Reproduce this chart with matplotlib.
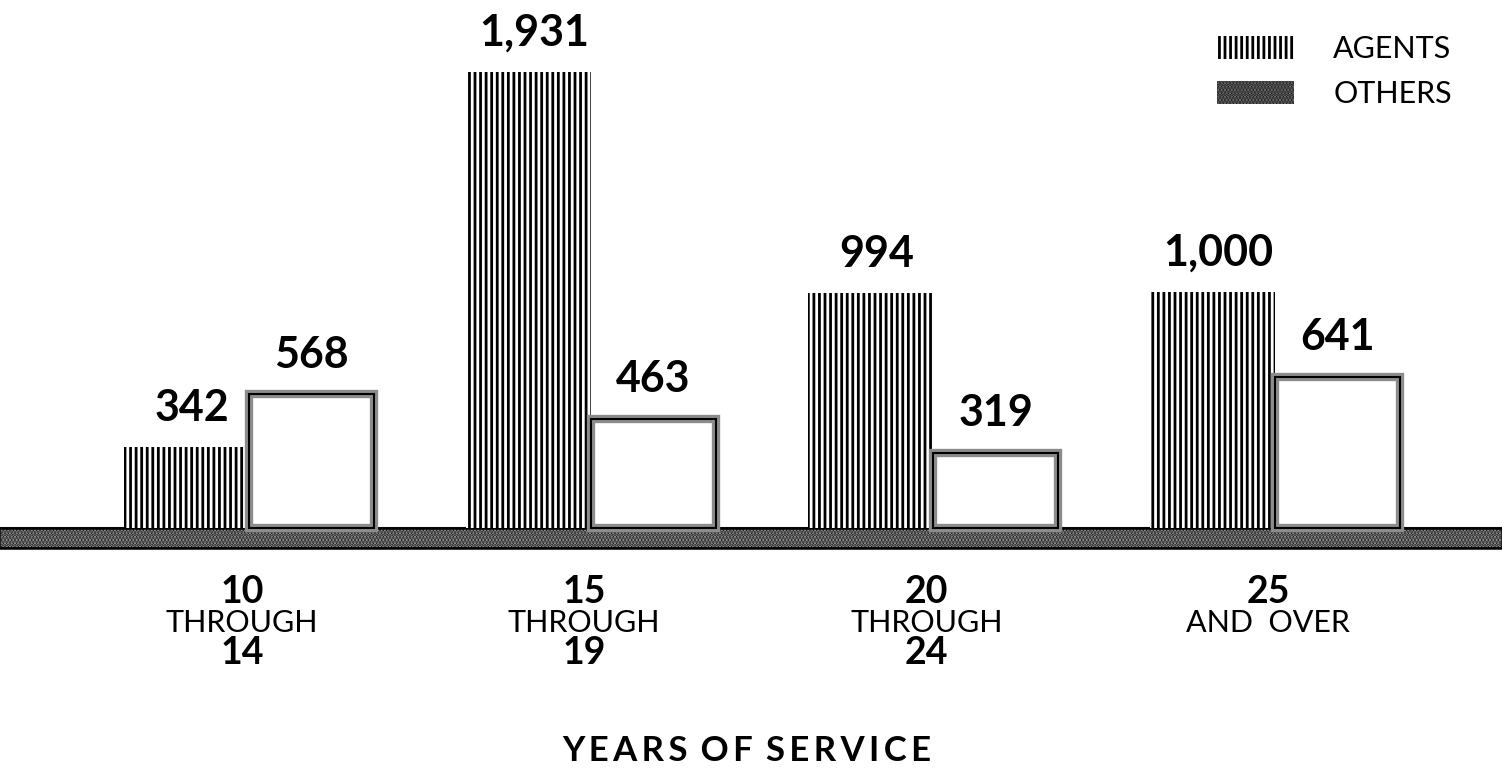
import numpy as np
import matplotlib
matplotlib.use('Agg')
import matplotlib.pyplot as plt
from matplotlib.patches import Patch
from matplotlib.transforms import blended_transform_factory

# years-of-service groups
groups_top = ['10', '15', '20', '25']
groups_mid = ['THROUGH', 'THROUGH', 'THROUGH', 'AND  OVER']
groups_bot = ['14', '19', '24', '']
agents = [342, 1931, 994, 1000]
others = [568, 463, 319, 641]

plt.rcParams['font.family'] = ['Lato', 'DejaVu Sans']
plt.rcParams['hatch.linewidth'] = 2.0

fig = plt.figure(figsize=(15.02, 7.72), dpi=100)
ax = fig.add_axes([0, 0, 1, 1])
ax.set_xlim(-0.728, 3.663)
ax.set_ylim(-1033, 2236)
ax.axis('off')

x = np.arange(len(agents))
w = 0.365

# base strip under the bars
ax.axhspan(-85, 0, xmin=0, xmax=1, facecolor='#a8a8a8', edgecolor='#202020',
           hatch='.....', linewidth=1.5, zorder=1)
ax.axhline(0, color='black', lw=1.8, zorder=1.5)
ax.axhline(-85, color='black', lw=1.8, zorder=1.5)

ax.bar(x - w / 2, agents, w, align='center', facecolor='white',
       edgecolor='black', linewidth=0, hatch='|||', zorder=2)
ax.bar(x + w / 2, others, w, align='center', facecolor='white',
       edgecolor='#8c8c8c', linewidth=6, zorder=2)
ax.bar(x + w / 2, others, w, align='center', fill=False,
       edgecolor='black', linewidth=1.5, zorder=3)

for xi, v in zip(x - w / 2, agents):
    ax.annotate(f'{v:,}', (xi, v), xytext=(4, 19), textcoords='offset points',
                ha='center', va='baseline', fontsize=31, fontweight='bold')
for xi, v in zip(x + w / 2, others):
    ax.annotate(f'{v:,}', (xi, v), xytext=(0, 19), textcoords='offset points',
                ha='center', va='baseline', fontsize=31, fontweight='bold')

# category labels under the strip
tr = blended_transform_factory(ax.transData, ax.transAxes)
for xi, t, m, b in zip(x, groups_top, groups_mid, groups_bot):
    ax.text(xi - 0.02, 1 - 592 / 772, t, transform=tr, ha='center', va='center',
            fontsize=27, fontweight='bold')
    ax.text(xi - 0.02, 1 - 623 / 772, m, transform=tr, ha='center', va='center',
            fontsize=22)
    if b:
        ax.text(xi - 0.02, 1 - 653 / 772, b, transform=tr, ha='center', va='center',
                fontsize=27, fontweight='bold')

ax.text(0.497, 1 - 751 / 772, 'Y E A R S   O F   S E R V I C E'.replace(' ', '\u2009'),
        transform=ax.transAxes, ha='center', va='center', fontsize=25,
        fontweight='bold')

handles = [
    Patch(facecolor='white', edgecolor='black', linewidth=0, hatch='|||', label='AGENTS'),
    Patch(facecolor='#7a7a7a', edgecolor='#202020', linewidth=0, hatch='.....', label='OTHERS'),
]
ax.legend(handles=handles, loc='upper right', bbox_to_anchor=(0.985, 0.99),
          frameon=False, fontsize=22, handlelength=2.5, handleheight=0.8,
          handletextpad=1.3, labelspacing=0.55)

fig.savefig('out.png', dpi=100)
